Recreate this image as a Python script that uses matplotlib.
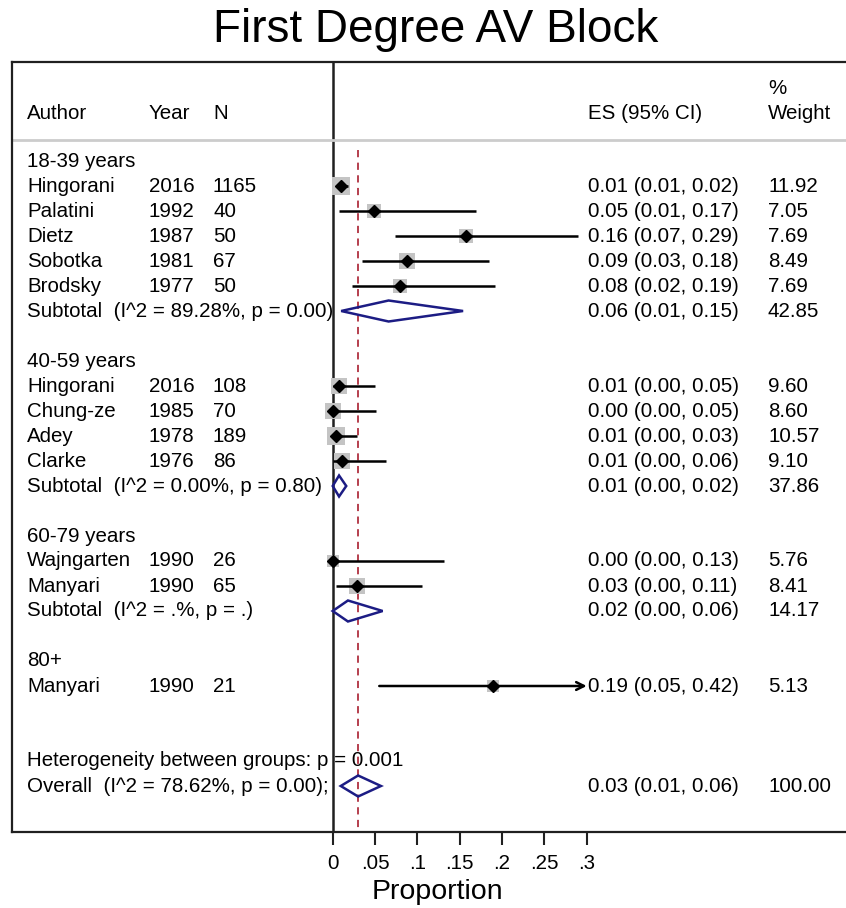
import matplotlib
matplotlib.use("Agg")
import matplotlib.pyplot as plt
from matplotlib.patches import Polygon

plt.rcParams["font.family"] = ["Liberation Sans", "DejaVu Sans"]

#------------------------------------data------------------------------------
groups = ["18-39 years", "40-59 years", "60-79 years", "80+"]
study_group = [0, 0, 0, 0, 0, 1, 1, 1, 1, 2, 2, 3]
authors = ["Hingorani", "Palatini", "Dietz", "Sobotka", "Brodsky",
           "Hingorani", "Chung-ze", "Adey", "Clarke",
           "Wajngarten", "Manyari",
           "Manyari"]
years = ["2016", "1992", "1987", "1981", "1977",
         "2016", "1985", "1978", "1976",
         "1990", "1990",
         "1990"]
ns = ["1165", "40", "50", "67", "50",
      "108", "70", "189", "86",
      "26", "65",
      "21"]
es = [0.0102, 0.049, 0.158, 0.088, 0.080,
      0.0075, 0.0, 0.0035, 0.0106,
      0.0, 0.029,
      0.189]
ci_lo = [0.007, 0.0075, 0.073, 0.035, 0.023,
         0.0, 0.0, 0.0, 0.0,
         0.0, 0.004,
         0.055]
ci_hi = [0.018, 0.169, 0.290, 0.185, 0.192,
         0.050, 0.051, 0.029, 0.063,
         0.132, 0.106,
         0.42]
weights = [11.92, 7.05, 7.69, 8.49, 7.69,
           9.60, 8.60, 10.57, 9.10,
           5.76, 8.41,
           5.13]
es_text = ["0.01 (0.01, 0.02)", "0.05 (0.01, 0.17)", "0.16 (0.07, 0.29)",
           "0.09 (0.03, 0.18)", "0.08 (0.02, 0.19)",
           "0.01 (0.00, 0.05)", "0.00 (0.00, 0.05)", "0.01 (0.00, 0.03)",
           "0.01 (0.00, 0.06)",
           "0.00 (0.00, 0.13)", "0.03 (0.00, 0.11)",
           "0.19 (0.05, 0.42)"]

# subtotals (None = group without a pooled estimate)
sub_label = ["Subtotal  (I^2 = 89.28%, p = 0.00)",
             "Subtotal  (I^2 = 0.00%, p = 0.80)",
             "Subtotal  (I^2 = .%, p = .)",
             None]
sub_es = [0.066, 0.0075, 0.018, None]
sub_lo = [0.010, 0.0, 0.0, None]
sub_hi = [0.154, 0.016, 0.059, None]
sub_text = ["0.06 (0.01, 0.15)", "0.01 (0.00, 0.02)", "0.02 (0.00, 0.06)", None]
sub_weight = ["42.85", "37.86", "14.17", None]

het_label = "Heterogeneity between groups: p = 0.001"
overall_label = "Overall  (I^2 = 78.62%, p = 0.00);"
overall_es, overall_lo, overall_hi = 0.030, 0.0095, 0.057
overall_text = "0.03 (0.01, 0.06)"
overall_weight = "100.00"

ticks = [0, 0.05, 0.1, 0.15, 0.2, 0.25, 0.3]
tick_labels = ["0", ".05", ".1", ".15", ".2", ".25", ".3"]
x_max = 0.3

#------------------------------------layout------------------------------------
W, H = 846, 908
px_per_unit = 846.7
x0_px = 332.7


def px2x(px):
    return (px - x0_px) / px_per_unit


col_author = px2x(27)
col_year = px2x(149)
col_n = px2x(213)
col_es = px2x(588)
col_w = px2x(768)

FS = 14.8
navy = "#1c1c84"

fig = plt.figure(figsize=(W / 100, H / 100), dpi=100)
ax = fig.add_axes([12 / W, 1 - 832 / H, (W - 12) / W, (832 - 62) / H])
ax.set_xlim(px2x(12), px2x(W))
ax.set_ylim(26.84, -3.96)

for side in ["left", "top", "bottom"]:
    ax.spines[side].set_linewidth(1.6)
    ax.spines[side].set_color("#202020")
ax.spines["right"].set_visible(False)

ax.set_xticks(ticks)
ax.set_xticklabels(tick_labels, fontsize=FS)
ax.tick_params(axis="x", length=9, width=1.5, pad=7, color="#202020")
ax.set_yticks([])

# header
ax.text(col_author, -1.92, "Author", fontsize=FS, va="center")
ax.text(col_year, -1.92, "Year", fontsize=FS, va="center")
ax.text(col_n, -1.92, "N", fontsize=FS, va="center")
ax.text(col_es, -1.92, "ES (95% CI)", fontsize=FS, va="center")
ax.text(col_w, -2.92, "%", fontsize=FS, va="center")
ax.text(col_w, -1.92, "Weight", fontsize=FS, va="center")
ax.axhline(-0.84, color="#cccccc", lw=2)

# zero line and overall line
ax.axvline(0, color="#202020", lw=1.8, zorder=1)
ax.plot([overall_es, overall_es], [-0.44, 26.84], color="#b03040",
        lw=1.3, dashes=(4, 3), zorder=1)


def diamond(y, es_v, lo_v, hi_v):
    pts = [(lo_v, y), (es_v, y - 0.42), (hi_v, y), (es_v, y + 0.42)]
    ax.add_patch(Polygon(pts, closed=True, fill=False, edgecolor=navy,
                         lw=1.8, zorder=4))


row = 0
for g, gname in enumerate(groups):
    ax.text(col_author, row, gname, fontsize=FS, va="center")
    row += 1
    for i in [k for k, sg in enumerate(study_group) if sg == g]:
        ax.text(col_author, row, authors[i], fontsize=FS, va="center")
        ax.text(col_year, row, years[i], fontsize=FS, va="center")
        ax.text(col_n, row, ns[i], fontsize=FS, va="center")
        ax.text(col_es, row, es_text[i], fontsize=FS, va="center")
        ax.text(col_w, row, f"{weights[i]:.2f}", fontsize=FS, va="center")
        ax.scatter(es[i], row, marker="s", s=15 * weights[i],
                   color="#c4c4c4", zorder=2, linewidths=0)
        if ci_hi[i] > x_max:
            ax.annotate("", xy=(x_max, row), xytext=(ci_lo[i], row),
                        arrowprops=dict(arrowstyle="->", lw=1.8,
                                        color="black", shrinkA=0, shrinkB=0,
                                        mutation_scale=14),
                        zorder=3)
        else:
            ax.plot([ci_lo[i], ci_hi[i]], [row, row], color="black",
                    lw=1.8, zorder=3, solid_capstyle="butt")
        ax.plot(es[i], row, marker="D", ms=6, color="black", zorder=4)
        row += 1
    if sub_label[g] is not None:
        ax.text(col_author, row, sub_label[g], fontsize=FS, va="center")
        ax.text(col_es, row, sub_text[g], fontsize=FS, va="center")
        ax.text(col_w, row, sub_weight[g], fontsize=FS, va="center")
        diamond(row, sub_es[g], sub_lo[g], sub_hi[g])
    row += 2

ax.text(col_author, row, het_label, fontsize=FS, va="center")
row += 1
ax.text(col_author, row, overall_label, fontsize=FS, va="center")
ax.text(col_es, row, overall_text, fontsize=FS, va="center")
ax.text(col_w, row, overall_weight, fontsize=FS, va="center")
diamond(row, overall_es, overall_lo, overall_hi)

ax.set_xlabel("Proportion", fontsize=20.5)
ax.xaxis.set_label_coords((437 - 12) / (W - 12), -0.061)

fig.text(436 / W, 1 - 30 / H, "First Degree AV Block", fontsize=33,
         ha="center", va="center")

fig.savefig("out.png", dpi=100)
